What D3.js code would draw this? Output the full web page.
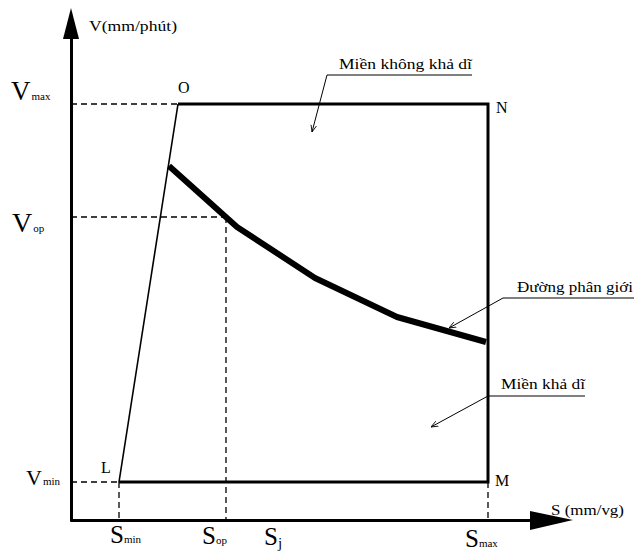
<!DOCTYPE html>
<html>
<head>
<meta charset="utf-8">
<script src="https://cdn.jsdelivr.net/npm/d3@7"></script>
<style>
  body { margin: 0; background: #fff; }
  text { font-family: "Liberation Serif", "DejaVu Serif", serif; fill: #000; }
</style>
</head>
<body>
<div id="area"></div>
<script>
// feed S (mm/vg) and cutting speed V (mm/phút), arbitrary units
var sMin = 0.96, sOp = 3.1, sJ = 4.0, sMax = 8.34;
var vMin = 0.76, vOp = 6.06, vMax = 8.32;
var sO = 2.14; // S at corner O
var boundaryS = [1.96, 3.32, 4.88, 6.52, 8.3];
var boundaryV = [7.08, 5.86, 4.84, 4.06, 3.56];
var cornerNames = ["O", "N", "M", "L"];
var regionLabels = ["Miền không khả dĩ", "Đường phân giới", "Miền khả dĩ"];

var width = 634, height = 554;

var svG = d3.select("#area")
  .append("svg")
  .attr("width", width)
  .attr("height", height);

var xScale = d3.scaleLinear().domain([0, 10]).range([71, 571]);
var yScale = d3.scaleLinear().domain([0, 10]).range([520, 20]);

// axes (only the lines, labels drawn by hand)
svG.append("g")
  .attr("transform", "translate(0," + yScale(0) + ")")
  .call(d3.axisBottom(xScale.copy().domain([0, 9.2]).range([70, 535])).tickValues([]).tickSizeOuter(0))
  .select(".domain").attr("stroke-width", 3);
svG.append("g")
  .attr("transform", "translate(" + xScale(0) + ",0)")
  .call(d3.axisLeft(yScale.copy().domain([0, 9.6]).range([521, 36])).tickValues([]).tickSizeOuter(0))
  .select(".domain").attr("stroke-width", 3);

// arrow heads
var x0 = xScale(0), y0 = yScale(0);
svG.append("path")
  .attr("d", "M" + x0 + ",8 L" + (x0 - 8) + ",39 L" + (x0 + 8) + ",39 Z")
  .attr("fill", "#000");
svG.append("path")
  .attr("d", "M573," + y0 + " L530," + (y0 - 9) + " L530," + (y0 + 10) + " Z")
  .attr("fill", "#000");

// dashed guide lines
var dashes = [
  [[0, vMax], [sO, vMax]],
  [[0, vOp], [sOp, vOp]],
  [[sOp, vOp], [sOp, 0]],
  [[0, vMin], [sMin, vMin]],
  [[sMin, vMin], [sMin, 0]],
  [[sMax, vMin], [sMax, 0]]
];
var line = d3.line().x(function (d) { return xScale(d[0]); }).y(function (d) { return yScale(d[1]); });
svG.selectAll(".dash")
  .data(dashes)
  .enter()
  .append("path")
  .attr("d", line)
  .attr("fill", "none")
  .attr("stroke", "#000")
  .attr("stroke-width", 1.3)
  .attr("stroke-dasharray", "6,4");

// region boundary L-O-N-M-L
svG.append("path")
  .attr("d", line([[sMin, vMin], [sO, vMax]]))
  .attr("stroke", "#000").attr("stroke-width", 1.6).attr("fill", "none");
svG.append("path")
  .attr("d", line([[sO, vMax], [sMax, vMax], [sMax, vMin], [sMin, vMin]]))
  .attr("stroke", "#000").attr("stroke-width", 3).attr("fill", "none");

// boundary curve
svG.append("path")
  .attr("d", line(boundaryS.map(function (s, i) { return [s, boundaryV[i]]; })))
  .attr("stroke", "#000").attr("stroke-width", 6).attr("fill", "none")
  .attr("stroke-linejoin", "round");

// corner letters
var corners = [
  [sO, vMax, 178, 93],
  [sMax, vMax, 496, 113],
  [sMax, vMin, 495, 486],
  [sMin, vMin, 101, 473]
];
svG.selectAll(".corner")
  .data(corners)
  .enter()
  .append("text")
  .attr("x", function (d) { return d[2]; })
  .attr("y", function (d) { return d[3]; })
  .attr("font-size", 16)
  .text(function (d, i) { return cornerNames[i]; });

// axis titles
svG.append("text").attr("x", 89).attr("y", 31).attr("font-size", 15)
  .attr("textLength", 88).attr("lengthAdjust", "spacingAndGlyphs").text("V(mm/phút)");
svG.append("text").attr("x", 551).attr("y", 515).attr("font-size", 15)
  .attr("textLength", 73).attr("lengthAdjust", "spacingAndGlyphs").text("S (mm/vg)");

// V labels
var vLabels = [
  { v: vMax, sub: "max", x: 11, dy: -4, size: 27 },
  { v: vOp, sub: "op", x: 12, dy: 15, size: 28 },
  { v: vMin, sub: "min", x: 26, dy: 3, size: 22 }
];
vLabels.forEach(function (d) {
  var t = svG.append("text")
    .attr("x", d.x)
    .attr("y", yScale(d.v) + d.dy)
    .attr("font-size", d.size);
  t.append("tspan").text("V");
  t.append("tspan").attr("font-size", 11).attr("dx", 1).text(d.sub);
});

// S labels
var sLabels = [
  { s: sMin, sub: "min", dx: -9, y: 543 },
  { s: sOp, sub: "op", dx: -24, y: 544 },
  { s: sJ, sub: "j", dx: -7, y: 545 },
  { s: sMax, sub: "max", dx: -23, y: 547 }
];
sLabels.forEach(function (d) {
  var t = svG.append("text")
    .attr("x", xScale(d.s) + d.dx)
    .attr("y", d.y)
    .attr("font-size", 25);
  t.append("tspan").text("S");
  t.append("tspan").attr("font-size", d.sub === "j" ? 15 : 11).attr("dy", d.sub === "j" ? 3 : 0).text(d.sub);
});

// leader lines with region labels
svG.append("defs").append("marker")
  .attr("id", "tip")
  .attr("viewBox", "0 0 10 10")
  .attr("refX", 10).attr("refY", 5)
  .attr("markerWidth", 7).attr("markerHeight", 7)
  .attr("orient", "auto")
  .append("path")
  .attr("d", "M0,1 L10,5 L0,9")
  .attr("fill", "none").attr("stroke", "#000").attr("stroke-width", 1.2);

var leaders = [
  { text: 0, tx: 339, ty: 69, len: 133, u1: 327, u2: 472, uy: 75, ax: 312, ay: 132 },
  { text: 1, tx: 517, ty: 292, len: 116, u1: 503, u2: 634, uy: 298, ax: 449, ay: 328 },
  { text: 2, tx: 501, ty: 389, len: 84, u1: 488, u2: 585, uy: 396, ax: 431, ay: 427 }
];
leaders.forEach(function (d) {
  svG.append("text").attr("x", d.tx).attr("y", d.ty).attr("font-size", 15)
    .attr("textLength", d.len).attr("lengthAdjust", "spacingAndGlyphs").text(regionLabels[d.text]);
  svG.append("line").attr("x1", d.u1).attr("x2", d.u2).attr("y1", d.uy).attr("y2", d.uy)
    .attr("stroke", "#000").attr("stroke-width", 1);
  svG.append("line").attr("x1", d.u1).attr("y1", d.uy).attr("x2", d.ax).attr("y2", d.ay)
    .attr("stroke", "#000").attr("stroke-width", 1).attr("marker-end", "url(#tip)");
});
</script>
</body>
</html>
